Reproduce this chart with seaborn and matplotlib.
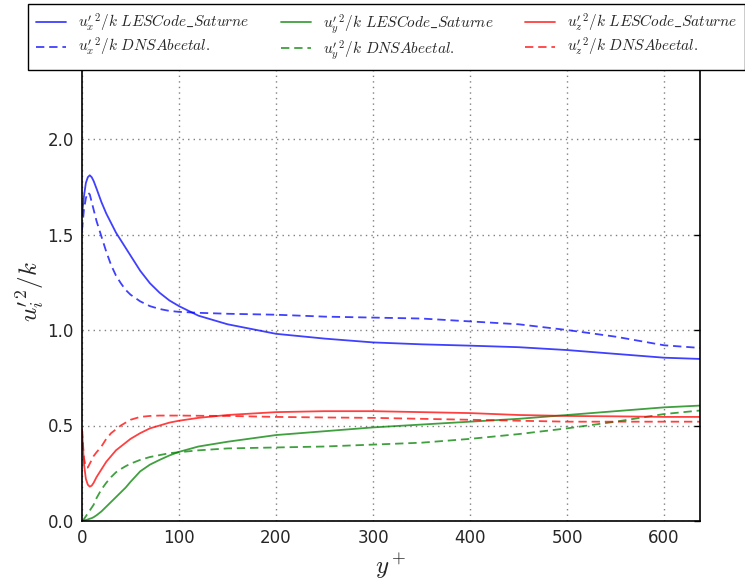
import matplotlib
matplotlib.use("Agg")
import matplotlib.pyplot as plt
import seaborn as sns
import pandas as pd
import numpy as np

# ---- data ----
yplus = [0, 2, 4, 6, 8, 10, 12, 15, 20, 25, 30, 35, 40, 45, 50, 60, 70, 80, 90, 100,
         120, 150, 200, 250, 300, 350, 400, 450, 500, 550, 600, 640]

ux_les = [1.60, 1.70, 1.77, 1.80, 1.81, 1.80, 1.78, 1.74, 1.67, 1.61, 1.56, 1.51, 1.47,
          1.43, 1.39, 1.31, 1.245, 1.195, 1.155, 1.125, 1.075, 1.03, 0.98, 0.955, 0.935,
          0.925, 0.918, 0.91, 0.895, 0.875, 0.855, 0.848]
ux_dns = [1.52, 1.63, 1.69, 1.72, 1.71, 1.67, 1.63, 1.57, 1.49, 1.41, 1.34, 1.285, 1.245,
          1.21, 1.185, 1.15, 1.125, 1.11, 1.10, 1.095, 1.09, 1.085, 1.08, 1.07, 1.065,
          1.06, 1.045, 1.03, 1.00, 0.965, 0.92, 0.905]
uy_les = [0.0, 0.002, 0.005, 0.008, 0.012, 0.015, 0.02, 0.03, 0.05, 0.075, 0.10, 0.125,
          0.15, 0.175, 0.205, 0.26, 0.295, 0.32, 0.343, 0.362, 0.39, 0.415, 0.45, 0.47,
          0.49, 0.505, 0.52, 0.535, 0.555, 0.575, 0.595, 0.605]
uy_dns = [0.0, 0.01, 0.025, 0.04, 0.055, 0.07, 0.085, 0.12, 0.165, 0.20, 0.23, 0.255,
          0.272, 0.287, 0.30, 0.32, 0.335, 0.345, 0.355, 0.36, 0.37, 0.38, 0.385, 0.39,
          0.40, 0.41, 0.43, 0.455, 0.485, 0.52, 0.56, 0.58]
uz_les = [0.48, 0.30, 0.22, 0.19, 0.18, 0.185, 0.20, 0.23, 0.27, 0.31, 0.34, 0.37, 0.39,
          0.41, 0.43, 0.46, 0.485, 0.50, 0.515, 0.525, 0.54, 0.555, 0.57, 0.575, 0.575,
          0.57, 0.565, 0.555, 0.55, 0.548, 0.545, 0.545]
uz_dns = [0.48, 0.33, 0.28, 0.28, 0.30, 0.32, 0.34, 0.36, 0.39, 0.43, 0.46, 0.48, 0.50,
          0.515, 0.53, 0.545, 0.55, 0.552, 0.552, 0.552, 0.551, 0.55, 0.545, 0.542, 0.54,
          0.535, 0.53, 0.525, 0.52, 0.52, 0.52, 0.52]

labels = [r"$u_x'^2/k\ LES Code\_Saturne$", r"$u_x'^2/k\ DNS Abe et al.$",
          r"$u_y'^2/k\ LES Code\_Saturne$", r"$u_y'^2/k\ DNS Abe et al.$",
          r"$u_z'^2/k\ LES Code\_Saturne$", r"$u_z'^2/k\ DNS Abe et al.$"]
series = [ux_les, ux_dns, uy_les, uy_dns, uz_les, uz_dns]
colors = ["blue", "blue", "green", "green", "red", "red"]
styles = ["-", (0, (6, 3.5)), "-", (0, (6, 3.5)), "-", (0, (6, 3.5))]

sns.set_style("white")
plt.rcParams["font.family"] = ["DejaVu Sans"]
plt.rcParams["mathtext.fontset"] = "cm"
plt.rcParams["xtick.direction"] = "in"
plt.rcParams["ytick.direction"] = "in"
plt.rcParams["lines.scale_dashes"] = False

fig = plt.figure(figsize=(7.45, 5.82), dpi=100)
ax = fig.add_axes([82/745, 1-521/582, (700-82)/745, (521-62.6)/582])

for vals, lab, c, ls in zip(series, labels, colors, styles):
    df = pd.DataFrame({"yplus": yplus, "v": vals})
    sns.lineplot(data=df, x="yplus", y="v", ax=ax, color=c, alpha=0.75,
                 linewidth=1.3, label=lab, linestyle=ls)

ax.set_xlim(0, 637)
ax.set_ylim(0, 2.4)
ax.set_xticks([0, 100, 200, 300, 400, 500, 600])
ax.set_yticks([0.0, 0.5, 1.0, 1.5, 2.0])
ax.set_yticklabels(["0.0", "0.5", "1.0", "1.5", "2.0"])
ax.tick_params(axis="both", labelsize=12, direction="in", top=True, right=True,
               length=4, width=1, color="black", pad=6)
for s in ax.spines.values():
    s.set_visible(True)
    s.set_color("black")
    s.set_linewidth(1.2)
ax.grid(True, linestyle=(0, (1, 3)), color="gray", linewidth=1)
ax.set_xlabel(r"$y^+$", fontsize=18, labelpad=3)
ax.set_ylabel(r"$u_i'^2/k$", fontsize=18, labelpad=0)

ax.legend_.remove()
h, l = ax.get_legend_handles_labels()
leg = fig.legend(h, l, ncol=3, loc="upper left",
                 bbox_to_anchor=(28/745, 1-4/582), fontsize=11,
                 frameon=True, fancybox=False, borderaxespad=0,
                 handlelength=2, labelspacing=0.15, columnspacing=2.0,
                 borderpad=0.5)
leg.get_frame().set_edgecolor("black")
leg.get_frame().set_linewidth(1.0)
leg.get_frame().set_facecolor("white")
leg.get_frame().set_alpha(1.0)

fig.savefig("out.png", dpi=100, facecolor="white")
